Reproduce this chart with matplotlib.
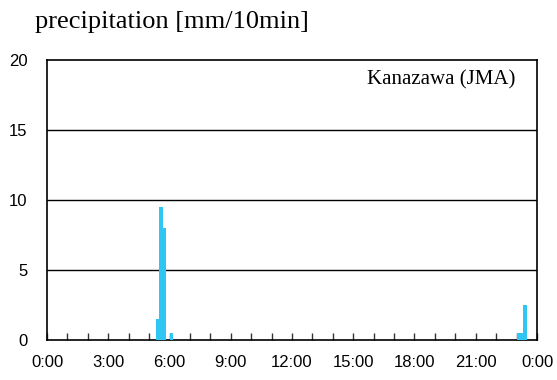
import matplotlib.pyplot as plt

# 10-minute precipitation, start time of each interval in hours
times = [5 + 20/60, 5 + 30/60, 5 + 40/60, 6.0, 23.0, 23 + 10/60, 23 + 20/60]
values = [1.5, 9.5, 8.0, 0.5, 0.5, 0.5, 2.5]
hour_labels = ["0:00", "3:00", "6:00", "9:00", "12:00", "15:00", "18:00", "21:00", "0:00"]

fig = plt.figure(figsize=(5.57, 3.8), dpi=100)
ax = fig.add_axes([47/557, 1 - 340/380, 490/557, 280/380])

ax.bar(times, values, width=1/6, align="edge", color="#2fc6f4", linewidth=0, zorder=3)

ax.set_xlim(0, 24)
ax.set_ylim(0, 20)
ax.set_yticks([0, 5, 10, 15, 20])
ax.set_xticks(range(0, 25, 3))
ax.set_xticklabels(hour_labels)
ax.set_xticks(range(0, 25), minor=True)
ax.tick_params(axis="x", which="both", direction="in", length=5, width=1,
               color="#333333", pad=11, labelsize=12)
ax.tick_params(axis="y", length=0, pad=14, labelsize=12)
for lab in ax.get_xticklabels() + ax.get_yticklabels():
    lab.set_family("Liberation Sans")

for y in [5, 10, 15]:
    ax.axhline(y, color="black", linewidth=1, zorder=1)
for s in ax.spines.values():
    s.set_linewidth(1.2)

ax.text(0.955, 0.93, "Kanazawa (JMA)", transform=ax.transAxes, ha="right", va="center",
        fontsize=15, family="Liberation Serif")
fig.text(35/557, 1 - 22/380, "precipitation [mm/10min]", ha="left", va="center",
         fontsize=19, family="Liberation Serif")

fig.savefig("out.png", dpi=100)
